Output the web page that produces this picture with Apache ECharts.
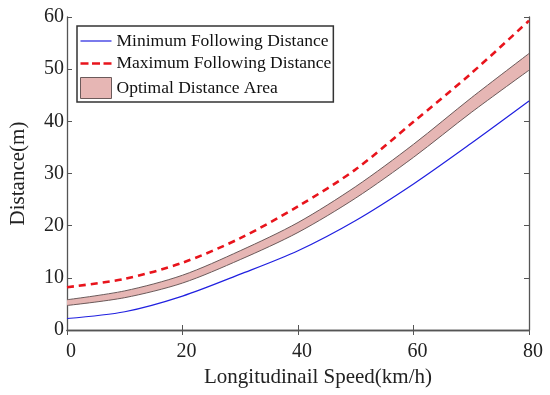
<!DOCTYPE html>
<html>
<head>
<meta charset="utf-8">
<script src="https://cdn.jsdelivr.net/npm/echarts@6/dist/echarts.min.js"></script>
<style>html,body{margin:0;padding:0;background:#fff;}#c{width:550px;height:395px;}</style>
</head>
<body>
<div id="c"></div>
<script>
const speeds = ['0', '10', '20', '30', '40', '50', '60', '70', '80'];
const minDistance = [2.2, 3.5, 6.5, 10.7, 15.2, 21.0, 28.0, 35.8, 43.9];
const maxDistance = [8.2, 9.8, 12.9, 17.6, 23.7, 30.8, 39.9, 49.2, 59.3];
const optimalLower = [4.7, 6.2, 9.0, 13.5, 18.7, 25.3, 33.1, 41.7, 49.8];
const optimalUpper = [5.8, 7.5, 10.5, 15.2, 20.6, 27.5, 35.6, 44.5, 53.0];
const yTicks = [0, 10, 20, 30, 40, 50, 60];

const bandWidth = optimalUpper.map((u, i) => +(u - optimalLower[i]).toFixed(2));
const font = 'Liberation Serif';
const axisColor = '#555';

const xBase = {
  type: 'category', data: speeds, boundaryGap: false,
  axisLine: { show: true, lineStyle: { color: axisColor, width: 1.3 } },
  axisTick: { show: true, inside: true, length: 5, interval: 1, lineStyle: { color: axisColor } },
  splitLine: { show: false }
};
const yBase = {
  type: 'value', min: yTicks[0], max: yTicks[yTicks.length - 1], interval: 10,
  axisLine: { show: true, lineStyle: { color: axisColor, width: 1.3 } },
  axisTick: { show: true, inside: true, length: 5, lineStyle: { color: axisColor } },
  splitLine: { show: false }
};

const chart = echarts.init(document.getElementById('c'));
chart.setOption({
  animation: false,
  backgroundColor: '#fff',
  grid: { left: 64, right: 21, top: 17, bottom: 65 },
  legend: {
    orient: 'vertical', left: 77, top: 26,
    padding: [6, 2, 3, 3],
    itemWidth: 31, itemHeight: 21, itemGap: 4.5, itemTextGap: 5,
    symbolKeepAspect: true,
    borderColor: '#333', borderWidth: 1.5, backgroundColor: '#fff',
    textStyle: { fontFamily: font, fontSize: 17.5, color: '#111' },
    data: [
      { name: 'Minimum Following Distance', icon: 'path://M0,0H31V1.2H0Z',
        itemStyle: { color: '#2020e0', borderWidth: 0 } },
      { name: 'Maximum Following Distance',
        icon: 'path://M0,0H8V2.6H0Z M11.5,0H19.5V2.6H11.5Z M23,0H31V2.6H23Z',
        itemStyle: { color: '#e8141c', borderWidth: 0 } },
      { name: 'Optimal Distance Area', icon: 'rect',
        itemStyle: { color: '#e6b6b4', borderColor: '#6b5a5a', borderWidth: 1 } }
    ]
  },
  xAxis: [Object.assign({}, xBase, {
    name: 'Longitudinail Speed(km/h)', nameLocation: 'middle', nameGap: 37,
    nameTextStyle: { fontFamily: font, fontSize: 21, color: '#222', padding: [0, 0, 0, 40] },
    axisLabel: { interval: 1, fontFamily: font, fontSize: 20, color: '#222', margin: 12, padding: [0, 0, 0, 8] }
  }), Object.assign({}, xBase, {
    position: 'top', axisLabel: { show: false }
  })],
  yAxis: [Object.assign({}, yBase, {
    name: 'Distance(m)', nameLocation: 'middle', nameGap: 38,
    nameTextStyle: { fontFamily: font, fontSize: 21, color: '#222' },
    axisLabel: { fontFamily: font, fontSize: 20, color: '#222', margin: 3 }
  }), Object.assign({}, yBase, {
    position: 'right', axisLabel: { show: false }
  })],
  series: [
    {
      name: 'bandLower', type: 'line', stack: 'band', data: optimalLower,
      smooth: 0.3, symbol: 'none', silent: true,
      lineStyle: { color: '#6b5a5a', width: 1 }
    },
    {
      name: 'Optimal Distance Area', type: 'line', stack: 'band', data: bandWidth,
      smooth: 0.3, symbol: 'none',
      itemStyle: { color: '#e6b6b4' },
      lineStyle: { color: '#6b5a5a', width: 1 },
      areaStyle: { color: '#e6b6b4', opacity: 1 }
    },
    {
      name: 'Minimum Following Distance', type: 'line', data: minDistance,
      smooth: 0.3, symbol: 'none',
      itemStyle: { color: '#2020e0' },
      lineStyle: { color: '#2020e0', width: 1.2 }
    },
    {
      name: 'Maximum Following Distance', type: 'line', data: maxDistance,
      smooth: 0.3, symbol: 'none',
      itemStyle: { color: '#e8141c' },
      lineStyle: { color: '#e8141c', width: 2.6, type: [7, 5] }
    }
  ]
});
</script>
</body>
</html>
